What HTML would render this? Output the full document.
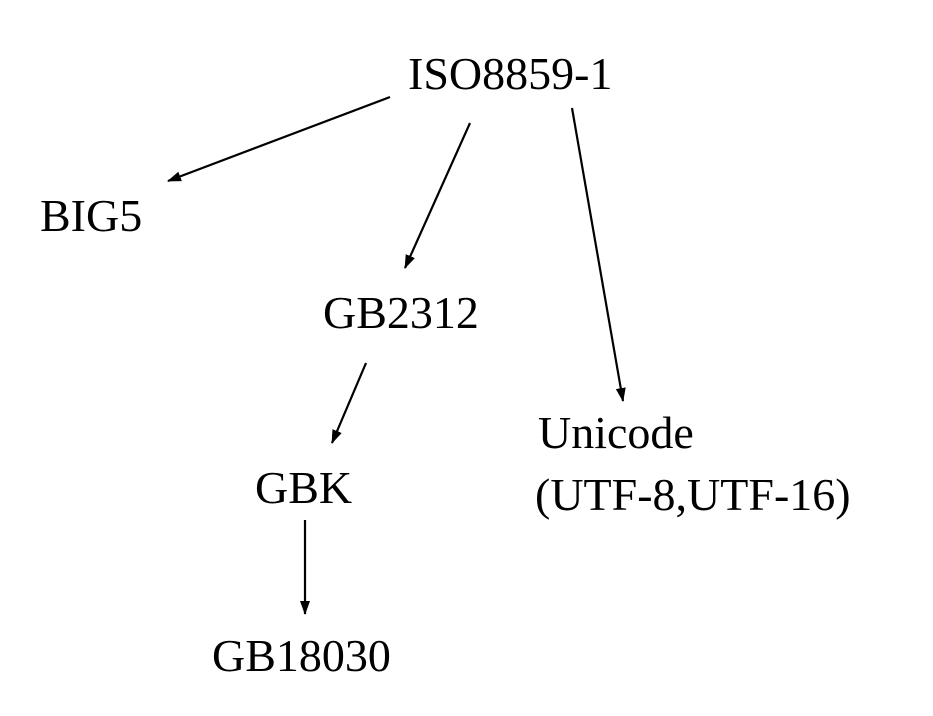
<!DOCTYPE html>
<html><head><meta charset="utf-8"><style>html,body{margin:0;padding:0;background:#fff}</style></head>
<body>
<svg width="933" height="711" viewBox="0 0 933 711" xmlns="http://www.w3.org/2000/svg">
<defs><marker id="a" markerWidth="10" markerHeight="8" refX="9" refY="4" orient="auto" markerUnits="userSpaceOnUse"><path d="M0,0 L10,4 L0,8 z" fill="#000"/></marker>
<marker id="b" viewBox="0 0 14 10" markerWidth="14" markerHeight="10" refX="13" refY="5" orient="auto" markerUnits="userSpaceOnUse"><path d="M0,0 L14,5 L0,10 z" fill="#000"/></marker></defs>
<g stroke="#000" stroke-width="2.2" fill="none">
<line x1="390" y1="97" x2="168" y2="181" marker-end="url(#b)"/>
<line x1="470" y1="123" x2="405" y2="268" marker-end="url(#b)"/>
<line x1="572" y1="108" x2="623" y2="401" marker-end="url(#b)"/>
<line x1="366" y1="363" x2="332" y2="443" marker-end="url(#b)"/>
<line x1="305" y1="520" x2="305" y2="614" marker-end="url(#b)"/>
</g>
<g font-family="Liberation Serif, serif" font-size="46" fill="#000">
<text x="408" y="89">ISO8859-1</text>
<text x="40" y="231">BIG5</text>
<text x="323" y="328">GB2312</text>
<text x="538" y="448">Unicode</text>
<text x="535" y="510">(UTF-8,UTF-16)</text>
<text x="255" y="503">GBK</text>
<text x="212" y="671">GB18030</text>
</g>
</svg>
</body></html>
